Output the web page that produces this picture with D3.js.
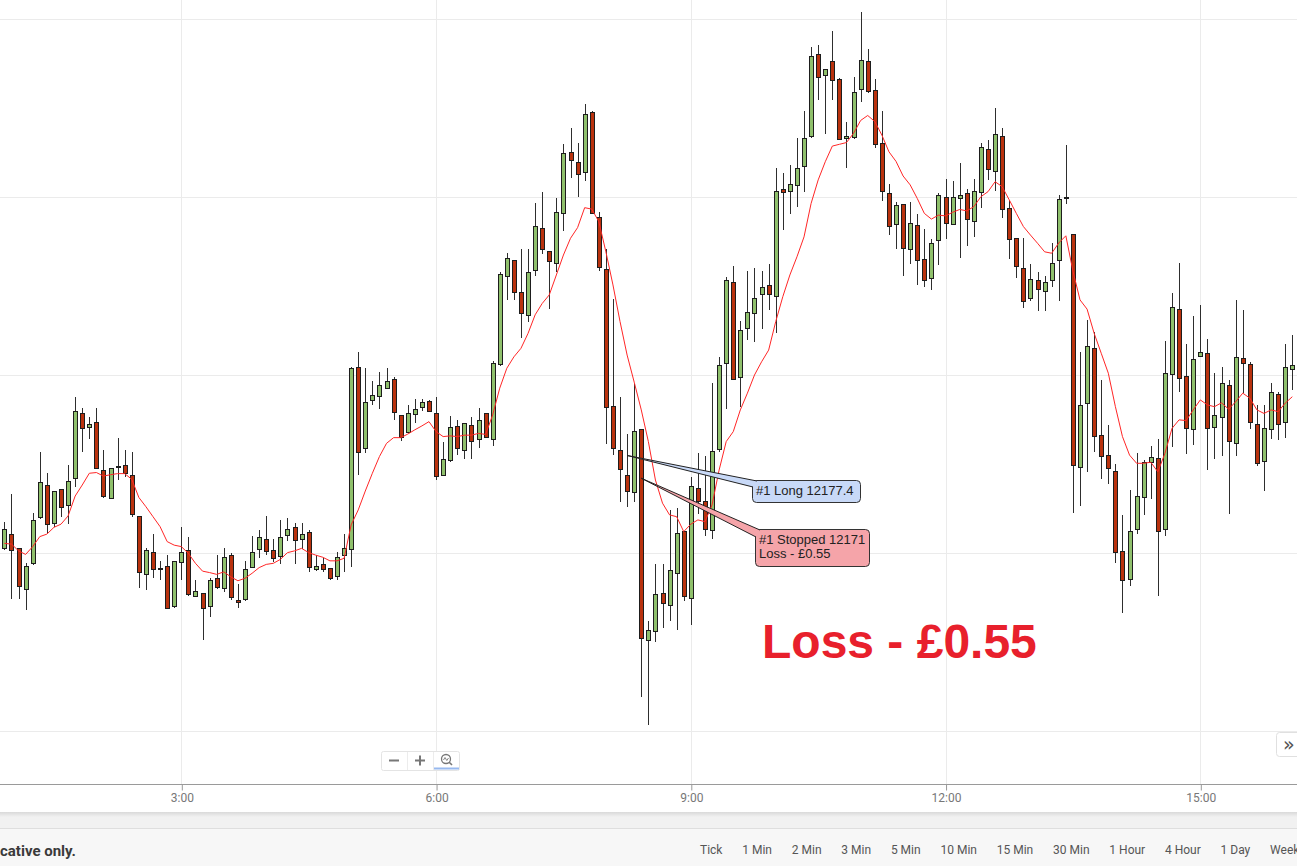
<!DOCTYPE html>
<html><head><meta charset="utf-8">
<script src="https://cdn.jsdelivr.net/npm/d3@7"></script>
<style>html,body{margin:0;padding:0;overflow:hidden;background:#fff}</style>
</head><body>
<svg id="c" width="1297" height="866"></svg>
<script>
// ---------- DATA (5-minute candles, first candle at 00:55) ----------
const startTime = [2020, 0, 6, 0, 55];
const intervalMinutes = 5;
const opens = [12151.3,12155.3,12151.3,12139.8,12147.1,12160.0,12169.2,12158.3,12167.9,12163.4,12171.0,12189.2,12185.3,12186.7,12173.2,12165.4,12174.4,12174.6,12171.8,12160.3,12144.0,12150.2,12145.7,12146.3,12135.0,12147.4,12150.8,12137.8,12138.7,12135.0,12142.9,12140.1,12149.4,12136.7,12137.0,12146.0,12151.0,12153.8,12150.8,12149.1,12155.0,12157.2,12153.8,12155.8,12145.4,12146.8,12145.7,12143.5,12149.4,12151.0,12202.2,12179.4,12192.9,12194.0,12196.3,12198.8,12188.7,12183.9,12189.0,12190.9,12192.6,12189.2,12171.8,12176.1,12185.8,12178.8,12186.0,12182.1,12189.2,12181.9,12203.0,12227.7,12232.2,12223.2,12216.8,12229.4,12241.2,12234.7,12231.4,12245.4,12262.6,12259.7,12256.9,12273.8,12244.3,12229.7,12191.2,12178.8,12171.8,12167.1,12184.7,12125.5,12128.0,12138.7,12135.3,12144.3,12156.1,12137.3,12168.2,12164.5,12156.4,12179.1,12203.3,12226.0,12199.4,12213.1,12217.3,12222.7,12225.2,12222.1,12252.2,12251.6,12253.3,12258.6,12267.0,12290.1,12284.2,12288.1,12283.1,12266.5,12266.8,12280.3,12288.1,12280.0,12265.1,12251.0,12242.3,12248.0,12235.3,12242.1,12232.5,12227.2,12237.8,12249.9,12242.3,12249.6,12251.0,12243.2,12251.3,12263.4,12257.2,12267.0,12246.8,12238.4,12230.0,12221.5,12226.6,12223.5,12226.6,12232.2,12249.9,12239.5,12174.1,12192.1,12207.5,12183.1,12177.4,12173.0,12150.5,12142.6,12156.7,12165.6,12175.5,12176.6,12156.7,12200.2,12218.5,12199.6,12184.7,12205.3,12206.1,12185.3,12188.1,12197.1,12180.8,12204.7,12203.0,12186.2,12175.8,12184.7,12194.6,12186.7,12201.6];
const highs = [12158.6,12166.5,12151.3,12147.1,12161.2,12178.3,12172.4,12167.4,12168.0,12174.6,12193.7,12190.6,12188.1,12190.6,12178.8,12173.8,12182.2,12178.8,12178.3,12160.3,12151.3,12155.3,12147.7,12149.4,12147.7,12157.2,12154.4,12142.3,12138.7,12142.9,12149.4,12151.3,12149.9,12141.2,12147.7,12154.7,12156.4,12160.3,12153.8,12159.2,12159.7,12158.3,12158.3,12156.4,12149.4,12148.5,12145.7,12150.2,12155.3,12202.2,12206.4,12201.9,12198.2,12200.8,12201.9,12199.4,12188.7,12191.5,12193.2,12193.2,12192.9,12193.7,12181.3,12188.6,12187.3,12186.6,12188.2,12190.6,12189.2,12204.0,12229.0,12234.2,12232.2,12235.3,12235.3,12248.2,12251.3,12234.7,12249.6,12264.8,12269.3,12265.1,12276.0,12274.1,12245.7,12235.3,12221.3,12193.7,12183.3,12197.4,12184.7,12130.8,12146.8,12146.8,12162.0,12162.6,12156.1,12171.3,12178.0,12177.2,12197.7,12205.0,12227.4,12230.5,12215.1,12229.1,12230.0,12229.1,12231.1,12258.1,12256.7,12258.9,12266.5,12274.1,12292.1,12292.6,12285.9,12296.5,12283.3,12271.0,12283.6,12301.9,12291.5,12283.1,12274.1,12253.6,12248.5,12248.0,12248.5,12245.1,12240.9,12238.1,12251.0,12255.0,12254.4,12259.5,12252.2,12255.0,12265.1,12265.9,12274.9,12269.3,12249.1,12238.4,12238.4,12231.1,12228.8,12227.7,12237.0,12250.5,12264.5,12239.5,12206.4,12215.4,12212.0,12198.5,12185.9,12174.9,12160.6,12167.6,12178.0,12176.0,12180.0,12181.9,12209.5,12223.0,12231.4,12208.6,12216.5,12219.6,12210.0,12200.5,12202.2,12198.5,12221.0,12218.2,12203.6,12191.5,12191.5,12197.7,12195.1,12208.6,12211.2];
const lows = [12150.8,12137.0,12137.0,12133.9,12146.6,12159.5,12155.5,12157.2,12160.0,12158.1,12168.5,12178.3,12181.9,12173.8,12165.4,12165.4,12170.4,12171.3,12160.0,12140.1,12139.5,12142.9,12142.3,12134.5,12134.5,12142.3,12137.8,12137.8,12125.5,12131.9,12139.8,12139.1,12136.8,12134.5,12136.4,12146.0,12148.5,12149.4,12147.4,12146.8,12153.3,12146.8,12151.0,12144.6,12144.9,12144.6,12142.3,12142.3,12144.6,12146.0,12171.8,12178.0,12191.5,12190.4,12196.3,12187.3,12181.4,12183.9,12186.4,12189.8,12189.8,12170.4,12171.6,12175.6,12177.4,12176.4,12176.4,12179.4,12182.2,12180.0,12202.5,12221.0,12221.0,12210.3,12214.8,12227.7,12233.9,12218.5,12228.8,12240.4,12255.3,12249.9,12254.4,12245.4,12229.1,12180.5,12177.4,12164.4,12162.8,12164.4,12109.5,12101.7,12124.9,12128.8,12130.8,12128.3,12136.4,12129.7,12160.9,12154.7,12153.8,12178.4,12190.4,12198.8,12191.0,12209.7,12209.2,12212.8,12218.2,12211.7,12240.6,12245.1,12247.1,12251.3,12266.5,12277.2,12267.6,12277.2,12266.2,12258.1,12266.2,12276.6,12279.1,12263.7,12248.8,12239.2,12235.3,12227.7,12231.1,12225.2,12224.6,12223.8,12230.8,12238.1,12242.3,12232.8,12236.2,12238.7,12246.8,12254.7,12251.6,12244.0,12232.5,12227.2,12218.7,12220.7,12217.9,12217.9,12224.6,12220.7,12248.0,12161.2,12163.1,12172.7,12178.3,12170.7,12169.3,12147.1,12133.1,12140.6,12155.3,12160.6,12165.1,12137.8,12154.7,12179.7,12195.1,12177.7,12180.3,12205.3,12173.2,12176.3,12177.2,12160.9,12177.2,12194.9,12184.7,12174.4,12167.3,12181.9,12181.7,12182.2,12195.7];
const closes = [12156.7,12150.8,12140.6,12146.3,12159.2,12169.9,12158.1,12167.3,12162.8,12170.1,12189.8,12185.0,12186.2,12173.8,12165.9,12173.8,12174.5,12172.4,12160.9,12144.6,12150.8,12145.4,12145.8,12134.5,12147.7,12150.2,12138.4,12139.2,12134.5,12142.3,12140.4,12148.8,12137.6,12136.2,12145.4,12150.2,12154.4,12150.5,12148.5,12154.4,12156.7,12153.6,12155.3,12146.0,12146.3,12145.4,12142.9,12148.8,12151.3,12201.9,12178.3,12192.3,12194.3,12197.1,12198.2,12189.5,12182.5,12189.2,12190.4,12192.3,12189.8,12171.5,12176.3,12185.3,12179.4,12186.6,12181.4,12187.3,12182.6,12203.3,12228.3,12232.8,12223.2,12217.3,12228.8,12241.8,12235.3,12231.9,12245.7,12262.3,12260.3,12256.4,12273.2,12245.4,12230.3,12190.9,12179.4,12173.5,12167.3,12184.2,12126.0,12128.3,12138.4,12135.9,12145.1,12155.5,12137.8,12168.7,12164.5,12156.7,12178.6,12202.7,12226.6,12198.8,12212.6,12217.6,12221.5,12224.6,12222.7,12251.6,12251.3,12253.6,12258.1,12266.5,12289.5,12283.6,12285.9,12282.8,12266.2,12267.0,12279.4,12288.4,12279.7,12264.8,12251.6,12241.8,12247.7,12235.6,12242.6,12232.2,12226.6,12237.0,12250.5,12242.6,12249.9,12250.5,12243.7,12251.6,12264.0,12257.8,12267.6,12246.5,12238.1,12230.5,12220.7,12226.9,12224.1,12226.0,12231.4,12249.4,12249.9,12174.6,12191.5,12208.1,12182.8,12177.2,12173.8,12150.2,12142.3,12156.1,12165.9,12175.5,12176.9,12156.1,12200.5,12219.0,12199.1,12185.0,12204.4,12206.4,12185.0,12188.7,12197.7,12181.4,12205.0,12203.3,12186.7,12175.2,12185.0,12195.1,12186.2,12202.2,12202.7];
const movingAvg = [12152.7,12152.5,12150.6,12149.6,12151.8,12154.6,12155.3,12157.2,12158.1,12160.4,12166.0,12169.1,12172.4,12172.6,12171.6,12172.0,12172.3,12172.3,12170.7,12165.6,12163.0,12160.2,12157.4,12153.2,12152.2,12151.8,12149.9,12147.1,12144.9,12144.5,12144.0,12144.7,12143.3,12142.2,12142.9,12144.3,12145.9,12146.8,12147.1,12148.2,12150.1,12150.6,12151.3,12150.1,12149.4,12148.8,12147.8,12147.8,12148.5,12157.9,12162.1,12167.4,12172.4,12177.1,12180.8,12182.4,12182.4,12183.4,12184.6,12185.7,12186.9,12184.1,12182.7,12182.9,12182.7,12183.1,12183.1,12183.6,12183.3,12188.8,12196.3,12201.9,12205.1,12207.5,12211.7,12216.9,12220.1,12222.5,12228.1,12233.7,12238.4,12241.4,12247.0,12246.6,12243.1,12234.6,12225.3,12215.0,12205.6,12198.0,12190.2,12181.3,12170.5,12164.0,12160.7,12160.2,12156.0,12158.1,12159.3,12158.8,12163.5,12173.3,12181.3,12184.1,12190.2,12194.9,12200.0,12203.7,12207.0,12215.0,12222.0,12228.1,12233.2,12238.8,12248.2,12254.8,12259.9,12264.3,12264.8,12265.3,12267.9,12271.5,12272.9,12271.2,12267.4,12262.7,12260.0,12255.9,12253.4,12249.6,12245.4,12243.8,12244.9,12244.7,12245.7,12246.5,12246.1,12247.3,12250.1,12251.5,12254.3,12252.9,12249.2,12245.4,12241.7,12239.3,12237.0,12234.6,12234.2,12237.1,12239.1,12229.2,12221.1,12218.5,12211.7,12206.1,12200.5,12191.1,12182.7,12177.5,12175.2,12175.2,12175.5,12172.8,12178.0,12185.0,12187.4,12187.2,12190.2,12193.0,12191.6,12191.1,12192.2,12190.4,12192.5,12194.9,12193.5,12190.2,12189.2,12190.2,12189.7,12192.1,12193.9];
const priceGrid = [12100, 12150, 12200, 12250, 12300];
const axisHours = [3, 6, 9, 12, 15];
const timeframes = ["Tick","1 Min","2 Min","3 Min","5 Min","10 Min","15 Min","30 Min","1 Hour","4 Hour","1 Day","Week"];
const longTrade = {candle: 88, price: 12177.4, lines: ["#1 Long 12177.4"]};
const stopTrade = {candle: 90, price: 12171, lines: ["#1 Stopped 12171", "Loss - £0.55"]};
const bigLabel = "Loss - £0.55";
const footerNote = "cative only.";

// ---------- BUILD ----------
const t0 = new Date(...startTime);
const data = opens.map((o, i) => ({
  t: new Date(t0.getTime() + i * intervalMinutes * 60000),
  o, h: highs[i], l: lows[i], c: closes[i], ma: movingAvg[i]
}));

const W = 1297, H = 866, axisY = 784;
const svg = d3.select("#c");
const x = d3.scaleTime().domain([data[0].t, data[data.length - 1].t]).range([4.4, 1292.3]);
const y = d3.scaleLinear().domain([12100, 12300]).range([731, 19]);

// background panels
svg.append("rect").attr("x", 0).attr("y", 0).attr("width", W).attr("height", H).attr("fill", "#f1f1f1");
svg.append("rect").attr("x", 0).attr("y", 0).attr("width", W).attr("height", 812).attr("fill", "#fff");
const defs = svg.append("defs");
const sh = defs.append("linearGradient").attr("id", "sh").attr("x1", 0).attr("y1", 0).attr("x2", 0).attr("y2", 1);
sh.append("stop").attr("offset", 0).attr("stop-color", "#d9d9d9");
sh.append("stop").attr("offset", 1).attr("stop-color", "#f1f1f1");
svg.append("rect").attr("x", 0).attr("y", 812).attr("width", W).attr("height", 5).attr("fill", "url(#sh)");
svg.append("rect").attr("x", 0).attr("y", 829).attr("width", W).attr("height", 37).attr("fill", "#f7f7f7");
svg.append("line").attr("x1", 0).attr("x2", W).attr("y1", 828.5).attr("y2", 828.5).attr("stroke", "#dedede");

// grid
const grid = svg.append("g");
grid.selectAll("line.h").data(priceGrid).join("line")
  .attr("x1", 0).attr("x2", W)
  .attr("y1", d => Math.round(y(d)) + 0.5).attr("y2", d => Math.round(y(d)) + 0.5)
  .attr("stroke", "#ebebeb");
const hourDates = axisHours.map(hh => new Date(t0.getFullYear(), t0.getMonth(), t0.getDate(), hh, 0));
grid.selectAll("line.v").data(hourDates).join("line")
  .attr("x1", d => Math.round(x(d)) + 0.5).attr("x2", d => Math.round(x(d)) + 0.5)
  .attr("y1", 0).attr("y2", axisY)
  .attr("stroke", "#ebebeb");

// axis
const axis = d3.axisBottom(x).tickValues(hourDates).tickFormat(d3.timeFormat("%-H:%M")).tickSize(6).tickPadding(3);
const ag = svg.append("g").attr("transform", `translate(0.5,${axisY + 0.5})`).call(axis);
ag.select(".domain").remove();
ag.selectAll(".tick line").attr("stroke", "#999");
ag.selectAll(".tick text").attr("fill", "#777").attr("font-family", "Roboto, 'Liberation Sans', Arial, sans-serif").attr("font-size", 12);
svg.append("line").attr("x1", 0).attr("x2", W).attr("y1", axisY + 0.5).attr("y2", axisY + 0.5).attr("stroke", "#9a9a9a");

// candles
const cg = svg.append("g");
const cand = cg.selectAll("g").data(data).join("g");
cand.append("line")
  .attr("x1", d => Math.round(x(d.t)) + 0.5).attr("x2", d => Math.round(x(d.t)) + 0.5)
  .attr("y1", d => Math.round(y(d.h))).attr("y2", d => Math.round(y(d.l)))
  .attr("stroke", "#2e2e2e").attr("stroke-width", 1);
cand.append("rect")
  .attr("x", d => Math.round(x(d.t)) - 1.5)
  .attr("width", 4)
  .attr("y", d => Math.round(y(Math.max(d.o, d.c))) + 0.5)
  .attr("height", d => Math.max(1, Math.round(y(Math.min(d.o, d.c))) - Math.round(y(Math.max(d.o, d.c)))))
  .attr("fill", d => d.c >= d.o ? "#8fc06c" : "#b9320e")
  .attr("stroke", "#1d1d1d").attr("stroke-width", 1);

// moving average
svg.append("path").datum(data)
  .attr("d", d3.line().x(d => x(d.t)).y(d => y(d.ma)))
  .attr("fill", "none").attr("stroke", "#ff2626").attr("stroke-width", 1);

// trade callouts
function callout(trade, box, basePts, fill) {
  const ax = x(data[trade.candle].t), ay = y(trade.price);
  const g = svg.append("g");
  g.append("rect").attr("x", box.x + 0.5).attr("y", box.y + 0.5).attr("width", box.w).attr("height", box.h)
    .attr("rx", 4).attr("fill", fill).attr("stroke", "#333").attr("stroke-width", 1);
  g.append("path")
    .attr("d", `M${basePts[0][0]},${basePts[0][1]} L${ax},${ay} L${basePts[1][0]},${basePts[1][1]} Z`)
    .attr("fill", fill).attr("stroke", "none");
  g.append("path")
    .attr("d", `M${basePts[0][0]},${basePts[0][1]} L${ax},${ay} L${basePts[1][0]},${basePts[1][1]}`)
    .attr("fill", "none").attr("stroke", "#222").attr("stroke-width", 1);
  trade.lines.forEach((ln, i) => {
    g.append("text").attr("x", box.x + 4).attr("y", box.y + 15 + i * 13.5)
      .attr("font-family", "'Liberation Sans', Arial, sans-serif").attr("font-size", 13)
      .attr("fill", "#222").text(ln);
  });
}
callout(longTrade, {x: 752, y: 480, w: 108, h: 22}, [[757, 481], [753, 487]], "#c8d9f7");
callout(stopTrade, {x: 755, y: 529, w: 114, h: 37}, [[760, 530], [756, 537]], "#f5a4a9");

// big loss label
svg.append("text").attr("x", 762).attr("y", 658)
  .attr("font-family", "'Liberation Sans', Arial, sans-serif").attr("font-weight", "bold").attr("font-size", 48)
  .attr("fill", "#e8202c").text(bigLabel);

// zoom control
const zc = svg.append("g");
zc.append("rect").attr("x", 381.5).attr("y", 751.5).attr("width", 78).attr("height", 19).attr("rx", 2)
  .attr("fill", "#fff").attr("stroke", "#e4e4e4");
zc.append("line").attr("x1", 407.5).attr("x2", 407.5).attr("y1", 752).attr("y2", 770).attr("stroke", "#ececec");
zc.append("line").attr("x1", 433.5).attr("x2", 433.5).attr("y1", 752).attr("y2", 770).attr("stroke", "#ececec");
zc.append("rect").attr("x", 389).attr("y", 759.5).attr("width", 10).attr("height", 2).attr("fill", "#777");
zc.append("rect").attr("x", 415).attr("y", 759.5).attr("width", 10).attr("height", 2).attr("fill", "#777");
zc.append("rect").attr("x", 419).attr("y", 755.5).attr("width", 2).attr("height", 10).attr("fill", "#777");
zc.append("circle").attr("cx", 446).attr("cy", 759).attr("r", 4.5).attr("fill", "none").attr("stroke", "#777").attr("stroke-width", 1.3);
zc.append("line").attr("x1", 449.2).attr("y1", 762.2).attr("x2", 452).attr("y2", 765).attr("stroke", "#777").attr("stroke-width", 1.6);
zc.append("path").attr("d", "M443.5,760 L445,757.5 L446.8,760.5 L448.5,758").attr("fill", "none").attr("stroke", "#777").attr("stroke-width", 0.9);
zc.append("rect").attr("x", 434).attr("y", 767.5).attr("width", 25).attr("height", 2).attr("fill", "#98b9ef");

// right scroll button
svg.append("rect").attr("x", 1276.5).attr("y", 732.5).attr("width", 30).attr("height", 24).attr("rx", 3)
  .attr("fill", "#fff").attr("stroke", "#e0e0e0");
svg.append("text").attr("x", 1283).attr("y", 751).attr("font-family", "'DejaVu Sans', sans-serif").attr("font-size", 19)
  .attr("fill", "#555").text("»");

// footer
svg.append("text").attr("x", 0).attr("y", 856)
  .attr("font-family", "Roboto, 'Liberation Sans', Arial, sans-serif").attr("font-weight", "bold").attr("font-size", 15)
  .attr("fill", "#3a3a3a").text(footerNote);
// timeframe buttons laid out one after another with a fixed gap (like the reference toolbar)
const tfG = svg.append("g");
let cursor = 700;
const tfGap = 19.8;
tfG.selectAll("text").data(timeframes).join("text")
  .attr("y", 854)
  .attr("font-family", "Roboto, 'Liberation Sans', Arial, sans-serif").attr("font-size", 12)
  .attr("fill", "#555").text(d => d)
  .each(function () {
    const w = this.getComputedTextLength();
    d3.select(this).attr("x", cursor);
    cursor += w + tfGap;
  });
</script>
</body></html>
